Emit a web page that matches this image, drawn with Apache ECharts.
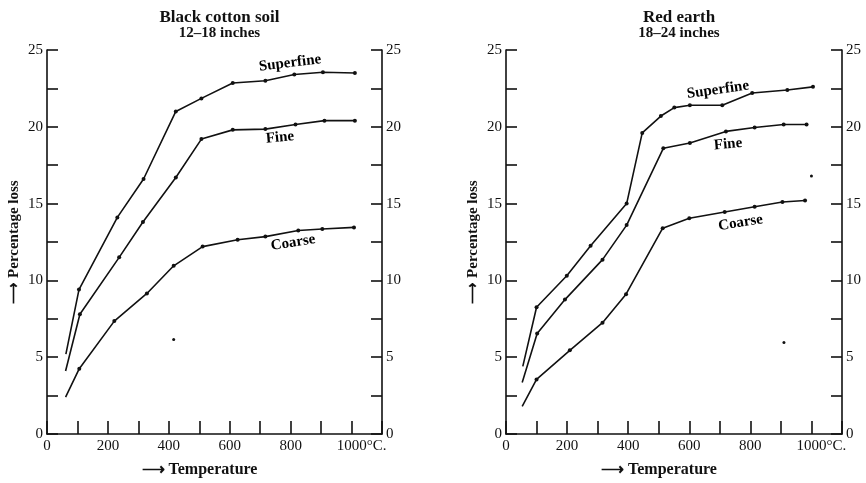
<!DOCTYPE html>
<html>
<head>
<meta charset="utf-8">
<script src="https://cdn.jsdelivr.net/npm/echarts@6/dist/echarts.min.js"></script>
<style>
  html, body { margin: 0; padding: 0; background: #fff; }
  #chart { width: 866px; height: 483px; }
</style>
</head>
<body>
<div id="chart"></div>
<script>
// Black cotton soil, 12-18 inches
var blackSuperT = [62, 105, 231, 317, 423, 507, 610, 717, 812, 906, 1011];
var blackSuperV = [5.2, 9.4, 14.1, 16.6, 21.0, 21.85, 22.85, 23.0, 23.4, 23.55, 23.5];
var blackFineT = [61, 108, 237, 315, 423, 507, 610, 717, 816, 911, 1011];
var blackFineV = [4.1, 7.8, 11.5, 13.8, 16.7, 19.2, 19.8, 19.85, 20.15, 20.4, 20.4];
var blackCoarseT = [61, 106, 221, 328, 416, 511, 626, 717, 825, 904, 1008];
var blackCoarseV = [2.4, 4.25, 7.35, 9.15, 10.95, 12.2, 12.65, 12.85, 13.25, 13.35, 13.45];
var blackStray = [[416, 6.15]];

// Red earth, 18-24 inches
var redSuperT = [55, 100, 199, 277, 395, 446, 507, 551, 602, 708, 806, 921, 1005];
var redSuperV = [4.4, 8.25, 10.3, 12.25, 15.0, 19.6, 20.7, 21.25, 21.4, 21.4, 22.2, 22.4, 22.6];
var redFineT = [53, 102, 193, 316, 395, 515, 602, 720, 814, 909, 984];
var redFineV = [3.35, 6.55, 8.75, 11.35, 13.6, 18.6, 18.95, 19.7, 19.95, 20.15, 20.15];
var redCoarseT = [53, 100, 209, 316, 393, 513, 600, 716, 814, 905, 979];
var redCoarseV = [1.8, 3.55, 5.45, 7.25, 9.1, 13.4, 14.05, 14.45, 14.8, 15.1, 15.2];
var redStray = [[910, 5.95], [1000, 16.8]];

// curve labels: [name, temp, value, rotate]
var blackLabels = [['Superfine', 798, 24.15, 7], ['Fine', 765, 19.3, 5], ['Coarse', 808, 12.45, 9]];
var redLabels = [['Superfine', 694, 22.4, 8], ['Fine', 727, 18.86, 5], ['Coarse', 768, 13.75, 9]];

var titles = [['Black cotton soil', '12–18 inches'], ['Red earth', '18–24 inches']];

var ink = '#111';
var serif = 'Liberation Serif';

function pairs(t, v) {
  return t.map(function (x, i) {
    if (i === 0) return { value: [x, v[i]], symbolSize: 0 };
    return [x, v[i]];
  });
}

function curve(t, v, gi) {
  return {
    type: 'line', xAxisIndex: gi, yAxisIndex: gi * 2,
    data: pairs(t, v),
    symbol: 'circle', symbolSize: 4,
    itemStyle: { color: ink },
    lineStyle: { color: ink, width: 1.6 },
    silent: true, animation: false
  };
}

function labelSeries(lbls, gi) {
  return {
    type: 'scatter', xAxisIndex: gi, yAxisIndex: gi * 2,
    symbolSize: 0, silent: true, animation: false,
    itemStyle: { color: ink, opacity: 1 },
    data: lbls.map(function (l) {
      return {
        value: [l[1], l[2]],
        label: {
          show: true, position: 'inside', formatter: l[0], rotate: l[3],
          color: '#000', fontFamily: serif, fontSize: 15, fontWeight: 'bold',
          textBorderWidth: 0
        }
      };
    })
  };
}

function straySeries(pts, gi) {
  return {
    type: 'scatter', xAxisIndex: gi, yAxisIndex: gi * 2,
    data: pts, symbolSize: 3, itemStyle: { color: ink, opacity: 1 },
    silent: true, animation: false
  };
}

var grids = [
  { left: 47, top: 50, width: 335, height: 387 },
  { left: 506, top: 50, width: 336, height: 387 }
];

var xAxes = [0, 1].map(function (gi) {
  return {
    type: 'value', gridIndex: gi, min: 0, max: 1100, interval: 100,
    name: '⟶ Temperature', nameLocation: 'middle', nameGap: 28,
    nameTextStyle: { color: ink, fontFamily: serif, fontSize: 16, fontWeight: 'bold', padding: [0, 30, 0, 0] },
    axisLine: { lineStyle: { color: ink, width: 1.6 } },
    axisTick: { inside: true, length: 13, lineStyle: { color: ink, width: 1.6 } },
    splitLine: { show: false },
    axisLabel: {
      color: ink, fontFamily: serif, fontSize: 15, margin: 5,
      formatter: function (v) {
        if (v === 1000) return '{k|1000°C.}';
        if (v % 200 === 0 && v < 1000) return String(v);
        return '';
      },
      rich: { k: { fontFamily: serif, fontSize: 15, color: ink, padding: [0, 0, 0, 20] } }
    }
  };
});

var yAxes = [];
[0, 1].forEach(function (gi) {
  ['left', 'right'].forEach(function (side) {
    yAxes.push({
      type: 'value', gridIndex: gi, position: side, min: 0, max: 25, interval: 2.5,
      name: side === 'left' ? '⟶ Percentage loss' : '',
      nameLocation: 'middle', nameGap: 25, nameRotate: 90,
      nameTextStyle: { color: ink, fontFamily: serif, fontSize: 15, fontWeight: 'bold' },
      axisLine: { show: true, onZero: false, lineStyle: { color: ink, width: 1.6 } },
      axisTick: { inside: true, length: 11, lineStyle: { color: ink, width: 1.6 } },
      splitLine: { show: false },
      axisLabel: {
        color: ink, fontFamily: serif, fontSize: 15, margin: 4,
        formatter: function (v) { return v % 5 === 0 ? String(v) : ''; }
      }
    });
  });
});

var option = {
  backgroundColor: '#fff',
  animation: false,
  title: titles.map(function (t, i) {
    return {
      text: t[0], subtext: t[1],
      left: grids[i].left + grids[i].width / 2, top: 4, textAlign: 'center',
      itemGap: 0,
      textStyle: { color: ink, fontFamily: serif, fontSize: 17, fontWeight: 'bold' },
      subtextStyle: { color: ink, fontFamily: serif, fontSize: 15, fontWeight: 'bold' }
    };
  }),
  grid: grids,
  xAxis: xAxes,
  yAxis: yAxes,
  series: [
    curve(blackSuperT, blackSuperV, 0),
    curve(blackFineT, blackFineV, 0),
    curve(blackCoarseT, blackCoarseV, 0),
    straySeries(blackStray, 0),
    labelSeries(blackLabels, 0),
    curve(redSuperT, redSuperV, 1),
    curve(redFineT, redFineV, 1),
    curve(redCoarseT, redCoarseV, 1),
    straySeries(redStray, 1),
    labelSeries(redLabels, 1)
  ]
};

var myChart = echarts.init(document.getElementById('chart'));
myChart.setOption(option);
</script>
</body>
</html>
